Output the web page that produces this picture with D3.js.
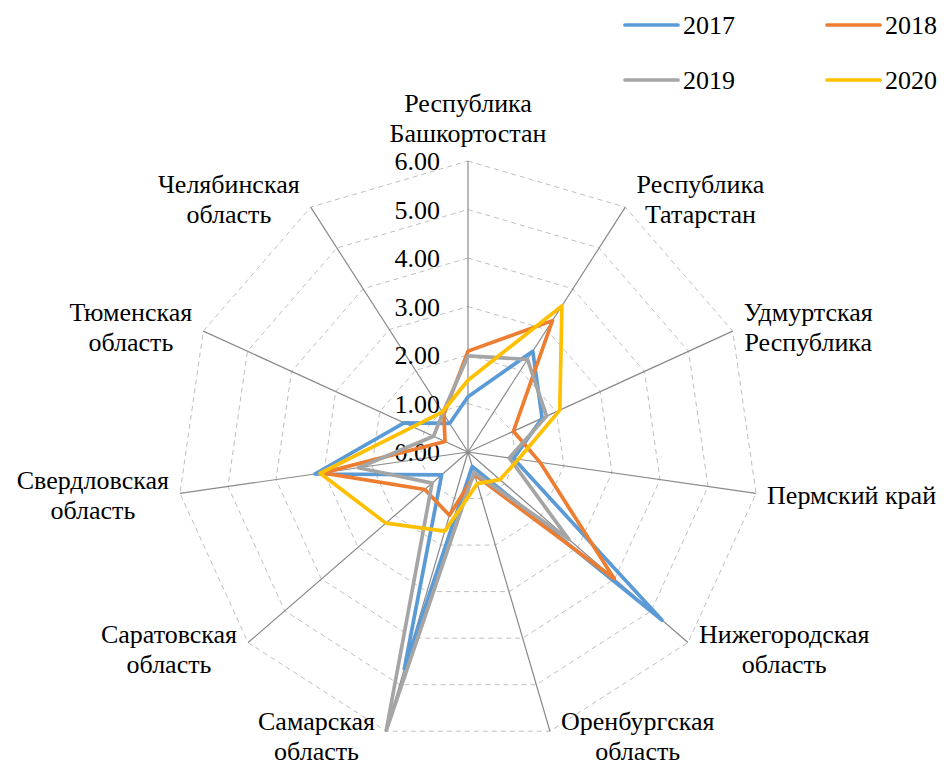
<!doctype html>
<html lang="ru">
<head>
<meta charset="utf-8">
<style>
  body { margin: 0; background: #fff; }
  svg { display: block; font-family: "Liberation Serif", "DejaVu Serif", serif; }
  text { fill: #000; }
</style>
</head>
<body>
<script src="https://cdn.jsdelivr.net/npm/d3@7"></script>
<script>
// regions (clockwise from the top), each label split into lines
var regions = [
  ["Республика", "Башкортостан"],
  ["Республика", "Татарстан"],
  ["Удмуртская", "Республика"],
  ["Пермский край"],
  ["Нижегородская", "область"],
  ["Оренбургская", "область"],
  ["Самарская", "область"],
  ["Саратовская", "область"],
  ["Свердловская", "область"],
  ["Тюменская", "область"],
  ["Челябинская", "область"]
];
var years = ["2017", "2018", "2019", "2020"];
var v2017 = [1.14, 2.47, 1.68, 0.95, 5.29, 0.31, 4.66, 0.72, 3.19, 1.45, 0.70];
var v2018 = [2.08, 3.22, 1.03, 1.50, 3.99, 0.49, 1.36, 1.18, 3.03, 0.52, 0.92];
var v2019 = [1.98, 2.27, 1.78, 0.86, 2.75, 0.44, 5.98, 0.98, 2.28, 0.78, 0.96];
var v2020 = [1.48, 3.58, 2.08, 1.05, 0.87, 0.68, 1.70, 2.24, 3.08, 1.25, 0.98];
var ticks = [0, 1, 2, 3, 4, 5, 6];
var colors = ["#5B9BD5", "#ED7D31", "#A5A5A5", "#FFC000"];

var series = [v2017, v2018, v2019, v2020];

var width = 944, height = 769;
var cx = 468, cy = 452, R = 291;
var fs = 26;

var svg = d3.select("body").append("svg")
  .attr("width", width)
  .attr("height", height);

var r = d3.scaleLinear().domain([0, 6]).range([0, R]);
var n = regions.length;
var angle = function(i) { return i * 2 * Math.PI / n; };
var pt = function(i, v) {
  return [cx + r(v) * Math.sin(angle(i)), cy - r(v) * Math.cos(angle(i))];
};

// dashed grid polygons
svg.append("g").selectAll("polygon")
  .data(ticks.slice(1))
  .enter().append("polygon")
  .attr("points", function(t) {
    return d3.range(n).map(function(i) { return pt(i, t).join(","); }).join(" ");
  })
  .attr("fill", "none")
  .attr("stroke", "#BFBFBF")
  .attr("stroke-width", 1)
  .attr("stroke-dasharray", "5,4");

// spokes
svg.append("g").selectAll("line")
  .data(d3.range(n))
  .enter().append("line")
  .attr("x1", cx).attr("y1", cy)
  .attr("x2", function(i) { return pt(i, 6)[0]; })
  .attr("y2", function(i) { return pt(i, 6)[1]; })
  .attr("stroke", "#898989")
  .attr("stroke-width", 1.2);

// value labels
svg.append("g").selectAll("text")
  .data(ticks)
  .enter().append("text")
  .attr("x", cx - 28)
  .attr("y", function(t) { return cy - r(t); })
  .attr("dy", "0.35em")
  .attr("text-anchor", "end")
  .style("font-size", fs + "px")
  .text(function(t) { return t.toFixed(2); });

// series lines
var line = d3.line().curve(d3.curveLinearClosed);
svg.append("g").selectAll("path")
  .data(series)
  .enter().append("path")
  .attr("d", function(s) { return line(s.map(function(v, i) { return pt(i, v); })); })
  .attr("fill", "none")
  .attr("stroke", function(s, k) { return colors[k]; })
  .attr("stroke-width", 3.7)
  .attr("stroke-linejoin", "round");

// category labels
var lh = 30;
regions.forEach(function(lines, i) {
  var a = angle(i), sx = Math.sin(a), co = Math.cos(a);
  var p = pt(i, 6);
  var g = svg.append("g");
  var t = g.append("text")
    .attr("text-anchor", "middle")
    .style("font-size", fs + "px");
  t.selectAll("tspan")
    .data(lines)
    .enter().append("tspan")
    .attr("x", 0)
    .attr("y", function(d, j) { return j * lh; })
    .attr("dy", "0.35em")
    .text(function(d) { return d; });
  var w = t.node().getBBox().width;
  var hBox = lines.length * lh;
  var x, y;
  if (Math.abs(sx) < 0.1) {
    x = p[0];
    y = p[1] - 13 - hBox;
  } else {
    x = sx > 0 ? p[0] + 11 + w / 2 : p[0] - 11 - w / 2;
    y = p[1] - 10 * co - hBox / 2;
  }
  y = Math.min(y, height - hBox - 3);
  g.attr("transform", "translate(" + x + "," + (y + lh / 2) + ")");
});

// legend
var leg = svg.append("g").selectAll("g")
  .data(years)
  .enter().append("g")
  .attr("transform", function(d, k) {
    return "translate(" + (625 + (k % 2) * 202) + "," + (25 + Math.floor(k / 2) * 55) + ")";
  });
leg.append("line")
  .attr("x1", 0).attr("x2", 53)
  .attr("stroke", function(d, k) { return colors[k]; })
  .attr("stroke-width", 3.7)
  .attr("stroke-linecap", "round");
leg.append("text")
  .attr("x", 58)
  .attr("dy", "0.35em")
  .style("font-size", fs + "px")
  .text(function(d) { return d; });
</script>
</body>
</html>
